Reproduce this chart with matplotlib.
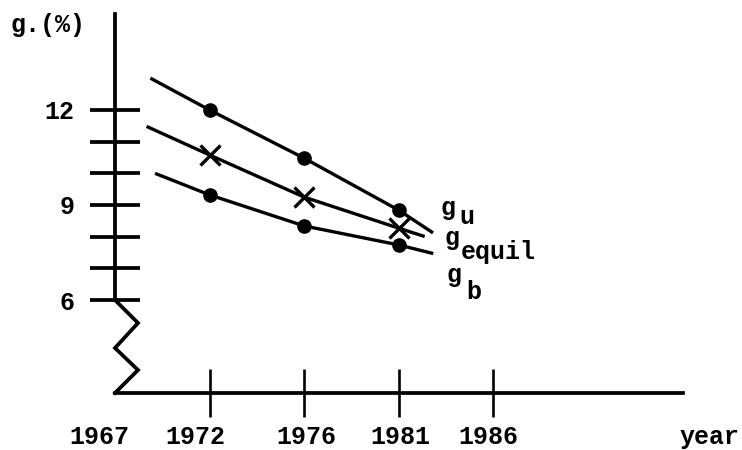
import matplotlib
matplotlib.use("Agg")
import matplotlib.pyplot as plt

# ---- data ----
year_labels = ["1967", "1972", "1976", "1981", "1986"]
year_pos = [0, 1, 2, 3, 4]
y_ticks = [6, 7, 8, 9, 10, 11, 12]
y_tick_labels = ["6", "", "", "9", "", "", "12"]

gu_x = [0.39, 1, 2, 3, 3.35]
gu_y = [12.98, 12.0, 10.48, 8.84, 8.15]
geq_x = [0.35, 1, 2, 3, 3.26]
geq_y = [11.46, 10.58, 9.25, 8.27, 8.02]
gb_x = [0.44, 1, 2, 3, 3.35]
gb_y = [9.98, 9.32, 8.34, 7.74, 7.48]

W, H = 742, 450
FONT = "Liberation Mono"
FS = 18
FW = "bold"

fig = plt.figure(figsize=(W / 100, H / 100), dpi=100)
ax = fig.add_axes([115 / W, (H - 393) / H, (683 - 115) / W, (393 - 14) / H])
ax.set_xlim(0, 6.01)
ax.set_ylim(3.064, 15.03)

lw = 2.4
ax.plot(gu_x, gu_y, color="black", lw=lw, marker="o", ms=9.5, markevery=[1, 2, 3])
ax.plot(geq_x, geq_y, color="black", lw=lw, marker="x", ms=14, mew=2.4, markevery=[1, 2, 3])
ax.plot(gb_x, gb_y, color="black", lw=lw, marker="o", ms=9.5, markevery=[1, 2, 3])

# spines
for s in ["top", "right"]:
    ax.spines[s].set_visible(False)
ax.spines["left"].set_linewidth(2.7)
ax.spines["bottom"].set_linewidth(2.7)
ax.spines["left"].set_bounds(6, 15.03)

# axis-break zigzag between 6 and the x axis
x_per_px = 1 / 94.5
ymin = ax.get_ylim()[0]
zz_x = [0, 23 * x_per_px, 0, 23 * x_per_px, 0]
span = 6 - ymin
zz_y = [6, 6 - span * 0.247, 6 - span * 0.516, 6 - span * 0.753, ymin]
ax.plot(zz_x, zz_y, color="black", lw=2.7, clip_on=False, solid_joinstyle="miter")

# ticks
ax.set_yticks(y_ticks)
ax.set_yticklabels(y_tick_labels, fontfamily=FONT, fontsize=FS, fontweight=FW)
ax.tick_params(axis="y", direction="inout", length=36, width=2.7, pad=11)
ax.set_xticks(year_pos[1:])
ax.set_xticklabels([])
ax.tick_params(axis="x", direction="inout", length=34.5, width=1.9)

# x labels (hand-placed offsets as in the original)
x_offsets = [-16, -14, 2, 1.5, -5]
for p, lab, dx in zip(year_pos, year_labels, x_offsets):
    ax.annotate(lab, xy=(p, 0), xycoords=("data", "axes fraction"),
                xytext=(dx, -51), textcoords="offset pixels",
                ha="center", va="baseline", fontfamily=FONT, fontsize=FS,
                fontweight=FW)

def fpx(px, py):
    return px / W, 1 - py / H

kw = dict(ha="left", va="baseline", fontfamily=FONT, fontsize=FS, fontweight=FW)
fig.text(*fpx(710, 444), "year", **{**kw, "ha": "center"})
fig.text(*fpx(11, 32), "g.(%)", **kw)

# series labels
fig.text(*fpx(441, 215), "g", **kw)
fig.text(*fpx(459, 224), "u", **kw)
fig.text(*fpx(444, 245), "g", **kw)
fig.text(*fpx(461, 259), "equil", **kw)
fig.text(*fpx(446, 282), "g", **kw)
fig.text(*fpx(466, 299), "b", **kw)

fig.savefig("out.png", dpi=100)
